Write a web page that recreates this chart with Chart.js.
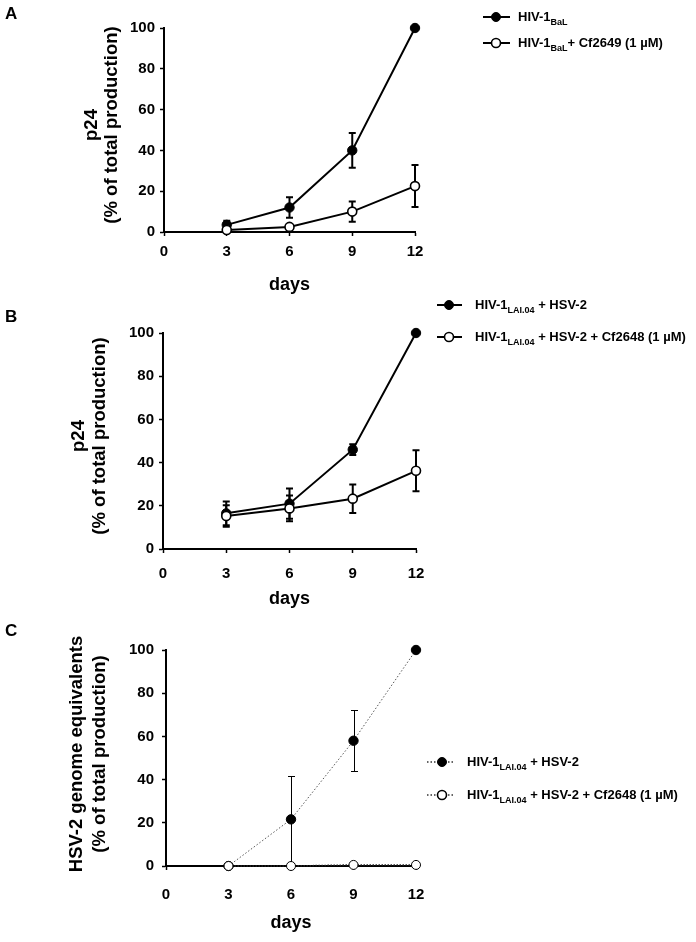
<!DOCTYPE html>
<html><head><meta charset="utf-8">
<script src="https://cdn.jsdelivr.net/npm/chart.js@4.4.1/dist/chart.umd.min.js"></script>
<style>
html,body{margin:0;padding:0;background:#fff;}
body{width:696px;height:942px;position:relative;overflow:hidden;font-family:'Liberation Sans',Arial,sans-serif;color:#000;}
canvas{position:absolute;left:0;}
.lbl{position:absolute;font-weight:bold;font-size:17px;line-height:20px;z-index:2;}
.ytitle{position:absolute;width:320px;text-align:center;font-weight:bold;font-size:18.5px;white-space:nowrap;transform:rotate(-90deg);z-index:2;}
.leg{position:absolute;font-weight:bold;font-size:13px;line-height:16px;white-space:nowrap;z-index:2;}
.leg sub{font-size:9px;vertical-align:-4px;line-height:0;}
svg{position:absolute;overflow:visible;z-index:2;}
</style></head><body>
<canvas id="cA" width="696" height="300" style="top:0px"></canvas>
<canvas id="cB" width="696" height="310" style="top:300px"></canvas>
<canvas id="cC" width="696" height="332" style="top:610px"></canvas>
<div class="lbl" style="left:5px;top:4px">A</div>
<div class="lbl" style="left:5px;top:307px">B</div>
<div class="lbl" style="left:5px;top:621px">C</div>
<div id="overlay"></div>
<script>
// ---- data ----
const days = [3, 6, 9, 12];
const yTickStep = 20;
const xTickStep = 3;

const aFilled    = [3.5, 12, 40, 100];
const aFilledErr = [2, 5, 8.5, 0];
const aOpen      = [1, 2.5, 10, 22.5];
const aOpenErr   = [0, 0, 5, 10.3];

const bFilled    = [16.5, 21, 46, 100];
const bFilledErr = [5.5, 7, 2.5, 0];
const bOpen      = [15.3, 18.8, 23.3, 36.2];
const bOpenErr   = [5, 6, 6.6, 9.5];

const cFilled    = [0, 21.6, 58, 100];
const cFilledErr = [0, 20, 14.2, 0];
const cOpen      = [0, 0, 0.5, 0.5];
const cOpenErr   = [0, 0, 0, 0];

const yTitleP24 = ['p24', '(% of total production)'];
const yTitleHSV = ['HSV-2 genome equivalents', '(% of total production)'];
const xTitle = 'days';
const legA = ['HIV-1<sub>BaL</sub>', 'HIV-1<sub>BaL</sub>+ Cf2649 (1 µM)'];
const legB = ['HIV-1<sub>LAI.04</sub> + HSV-2', 'HIV-1<sub>LAI.04</sub> + HSV-2 + Cf2648 (1 µM)'];
const legC = ['HIV-1<sub>LAI.04</sub> + HSV-2', 'HIV-1<sub>LAI.04</sub> + HSV-2 + Cf2648 (1 µM)'];

// ---- setup ----
Chart.defaults.font.family = "'Liberation Sans', Arial, sans-serif";
Chart.defaults.color = '#000';

const pts = (vals) => days.map((d, i) => ({x: d, y: vals[i]}));

const errorBars = {
  id: 'errorBars',
  beforeDatasetsDraw(chart) {
    const {ctx} = chart;
    const x = chart.scales.x, y = chart.scales.y;
    ctx.save();
    chart.data.datasets.forEach(ds => {
      if (!ds.errors) return;
      ctx.strokeStyle = '#000';
      ctx.lineWidth = ds.errWidth;
      const cap = 3.5;
      const thin = ds.errWidth <= 1;
      ds.data.forEach((p, i) => {
        const e = ds.errors[i];
        if (!e) return;
        let px = x.getPixelForValue(p.x);
        let yt = y.getPixelForValue(p.y + e);
        let yb = y.getPixelForValue(Math.max(p.y - e, 0));
        if (thin) { px = Math.round(px) + 0.5; yt = Math.round(yt) + 0.5; yb = Math.round(yb) + 0.5; }
        ctx.beginPath();
        ctx.moveTo(px, yt); ctx.lineTo(px, yb);
        ctx.moveTo(px - cap, yt); ctx.lineTo(px + cap, yt);
        ctx.moveTo(px - cap, yb); ctx.lineTo(px + cap, yb);
        ctx.stroke();
      });
    });
    ctx.restore();
  }
};

function makeChart(id, L) {
  const ctx = document.getElementById(id);
  return new Chart(ctx, {
    type: 'line',
    data: {datasets: L.datasets},
    plugins: [errorBars],
    options: {
      responsive: false,
      animation: false,
      layout: {padding: {left: 0, top: L.areaTop - L.top, right: 696 - L.areaRight, bottom: 0}},
      plugins: {legend: {display: false}, tooltip: {enabled: false}},
      scales: {
        x: {
          type: 'linear', min: 0, max: 12,
          ticks: {stepSize: xTickStep, padding: L.xTickPad, font: {size: 15, weight: 'bold'}, color: '#000'},
          grid: {drawOnChartArea: false, drawTicks: true, tickLength: 4, tickColor: '#000', tickWidth: 1.5, color: '#000'},
          border: {display: true, color: '#000', width: 2},
          title: {display: true, text: xTitle, font: {size: 18, weight: 'bold'}, color: '#000',
                  padding: {top: 0, bottom: L.xTitlePad}},
          afterFit: s => { s.height = L.top + L.height - L.areaBottom; }
        },
        y: {
          type: 'linear', min: 0, max: 100,
          ticks: {stepSize: yTickStep, padding: L.yTickPad, font: {size: 15, weight: 'bold'}, color: '#000'},
          grid: {drawOnChartArea: false, drawTicks: true, tickLength: 4, tickColor: '#000', tickWidth: 1.5, color: '#000'},
          border: {display: true, color: '#000', width: 2},
          afterFit: s => { s.width = L.areaLeft; }
        }
      }
    }
  });
}

const solidFilled = (vals, errs) => ({data: pts(vals), errors: errs, errWidth: 2, order: 1, clip: false,
  borderColor: '#000', borderWidth: 2, pointRadius: 4.7, pointBackgroundColor: '#000', pointBorderColor: '#000', pointBorderWidth: 1});
const solidOpen = (vals, errs) => ({data: pts(vals), errors: errs, errWidth: 2, order: 0, clip: false,
  borderColor: '#000', borderWidth: 2, pointRadius: 4.5, pointBackgroundColor: '#fff', pointBorderColor: '#000', pointBorderWidth: 1.6});

makeChart('cA', {top: 0, height: 300, areaTop: 28, areaLeft: 164, areaRight: 415, areaBottom: 232,
  xTickPad: 7, yTickPad: 5, xTitlePad: 4.2,
  datasets: [solidFilled(aFilled, aFilledErr), solidOpen(aOpen, aOpenErr)]});

makeChart('cB', {top: 300, height: 310, areaTop: 333, areaLeft: 163, areaRight: 416, areaBottom: 549,
  xTickPad: 12, yTickPad: 5, xTitlePad: 0.2,
  datasets: [solidFilled(bFilled, bFilledErr), solidOpen(bOpen, bOpenErr)]});

makeChart('cC', {top: 610, height: 332, areaTop: 650, areaLeft: 166, areaRight: 416, areaBottom: 866,
  xTickPad: 16, yTickPad: 8, xTitlePad: 8.2,
  datasets: [
    {data: pts(cFilled), errors: cFilledErr, errWidth: 1, order: 1, clip: false,
     borderColor: '#555', borderWidth: 1, borderDash: [1.5, 2], pointRadius: 4.7,
     pointBackgroundColor: '#000', pointBorderColor: '#000', pointBorderWidth: 1},
    {data: pts(cOpen), errors: cOpenErr, errWidth: 1, order: 0, clip: false,
     borderColor: '#222', borderWidth: 1.5, borderDash: [1.5, 1.5], pointRadius: 4.5,
     pointBackgroundColor: '#fff', pointBorderColor: '#000', pointBorderWidth: 1}
  ]});

// ---- HTML overlays: y titles and legends ----
const overlay = document.getElementById('overlay');
function yTitle(lines, cx, cy, lh) {
  const d = document.createElement('div');
  d.className = 'ytitle';
  d.style.lineHeight = lh + 'px';
  d.style.left = (cx - 160) + 'px';
  d.style.top = (cy - lh) + 'px';
  d.innerHTML = lines.join('<br>');
  overlay.appendChild(d);
}
yTitle(yTitleP24, 101, 125, 20);
yTitle(yTitleP24, 87.5, 436, 21);
yTitle(yTitleHSV, 86.5, 754, 23);

function legendItem(html, y, x0, x1, cx, textX, filled, dotted) {
  const ns = 'http://www.w3.org/2000/svg';
  const svg = document.createElementNS(ns, 'svg');
  svg.setAttribute('width', x1 - x0); svg.setAttribute('height', 12);
  svg.style.left = x0 + 'px'; svg.style.top = (y - 6) + 'px';
  const ln = document.createElementNS(ns, 'line');
  ln.setAttribute('x1', 0); ln.setAttribute('x2', x1 - x0); ln.setAttribute('y1', 6); ln.setAttribute('y2', 6);
  ln.setAttribute('stroke', dotted ? '#333' : '#000');
  ln.setAttribute('stroke-width', dotted ? 1.5 : 2);
  if (dotted) ln.setAttribute('stroke-dasharray', '1.5,2');
  svg.appendChild(ln);
  const c = document.createElementNS(ns, 'circle');
  c.setAttribute('cx', cx - x0); c.setAttribute('cy', 6); c.setAttribute('r', 4.5);
  c.setAttribute('fill', filled ? '#000' : '#fff');
  c.setAttribute('stroke', '#000'); c.setAttribute('stroke-width', filled ? 1 : 1.6);
  svg.appendChild(c);
  overlay.appendChild(svg);
  const d = document.createElement('div');
  d.className = 'leg';
  d.style.left = textX + 'px'; d.style.top = (y - 8) + 'px';
  d.innerHTML = html;
  overlay.appendChild(d);
}
legendItem(legA[0], 17, 483, 510, 496, 518, true, false);
legendItem(legA[1], 43, 483, 510, 496, 518, false, false);
legendItem(legB[0], 305, 437, 462, 449, 475, true, false);
legendItem(legB[1], 337, 437, 462, 449, 475, false, false);
legendItem(legC[0], 762, 427, 453, 442, 467, true, true);
legendItem(legC[1], 795, 427, 453, 442, 467, false, true);
</script>
</body></html>
